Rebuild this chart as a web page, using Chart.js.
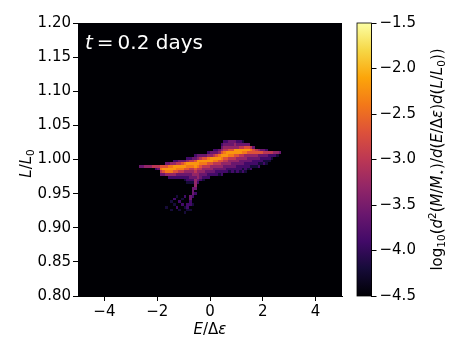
<!DOCTYPE html>
<html>
<head>
<meta charset="utf-8">
<script src="https://cdn.jsdelivr.net/npm/chart.js@4.4.1/dist/chart.umd.min.js"></script>
<style>
  html, body { margin: 0; padding: 0; background: #fff; }
  #wrap { position: relative; width: 455px; height: 349px; }
  #main { position: absolute; left: 0; top: 0; }
  #cbar { position: absolute; left: 350px; top: 0; }
</style>
</head>
<body>
<div id="wrap">
  <canvas id="main" width="350" height="349"></canvas>
  <canvas id="cbar" width="105" height="349"></canvas>
</div>
<script>
// --- data ---
const E_MIN = -3.0, E_STEP = 0.1;     // histogram columns (E / Δε)
const L_TOP = 1.030, L_STEP = 0.004;  // row centres, top row first (L / L0)

// colour level of each cell, one entry per E column: [first row index, levels]
// '.' = empty, '1'..'8' -> LEVEL_VALUES
const COLUMNS = [
  [0, ''], [0, ''], [0, ''],
  [10, '3'], [10, '3'], [10, '4'], [10, '4'], [10, '4'], [10, '5'],
  [10, '52'], [10, '53'], [10, '6753'], [10, '6863'],
  [9, '36874...........1'],
  [9, '378742'],
  [9, '478742........1..1'],
  [8, '2488642.......2.1'],
  [8, '2587632......1...2'],
  [8, '3587532........2..1'],
  [8, '3687532.......1.2'],
  [8, '37864321.....2...1.1'],
  [7, '2487643221.......221'],
  [7, '2587543321....3322.1'],
  [7, '3587544321.3332..1'],
  [6, '2368865434443.2'],
  [6, '34887544432'],
  [6, '3587654332'],
  [6, '3687544321'],
  [6, '368754332'],
  [5, '2478654322'],
  [5, '348864432'],
  [4, '2358754332'],
  [4, '2368754322'],
  [4, '3478654321'],
  [2, '234687644322'],
  [1, '234578654332'],
  [1, '234588654322'],
  [1, '334687544321'],
  [1, '334687543322'],
  [1, '344886543321'],
  [1, '234886443222'],
  [1, '235885433221'],
  [1, '135875433212'],
  [2, '36874432221'],
  [2, '3686433221'],
  [3, '576433212'],
  [3, '36643221'],
  [4, '5643221'],
  [4, '4633212'],
  [4, '363221'],
  [4, '353212'],
  [4, '253211'],
  [5, '5221'],
  [5, '521'],
  [5, '42'],
  [5, '41'],
  [5, '3'],
  [0, ''], [0, ''], [0, '']
];
const LEVEL_VALUES = { '1': -4.2, '2': -3.9, '3': -3.6, '4': -3.3, '5': -3.0, '6': -2.7, '7': -2.4, '8': -2.2 };

const X_TICKS = [-4, -2, 0, 2, 4];
const Y_TICKS = [0.80, 0.85, 0.90, 0.95, 1.00, 1.05, 1.10, 1.15, 1.20];
const CB_TICKS = [-4.5, -4.0, -3.5, -3.0, -2.5, -2.0, -1.5];
const CB_MIN = -4.5, CB_MAX = -1.5;

// --- style ---
const FONT = '"DejaVu Sans", sans-serif';
const TICK_SIZE = 15;
const LABEL_SIZE = 15;
const INFERNO = [
  [0, 0, 4], [22, 11, 57], [66, 10, 104], [106, 23, 110], [147, 38, 103],
  [188, 55, 84], [221, 81, 58], [243, 120, 25], [252, 165, 10], [246, 215, 70], [252, 255, 164]
];

function inferno(t) {
  t = Math.min(1, Math.max(0, t)) * (INFERNO.length - 1);
  const i = Math.min(INFERNO.length - 2, Math.floor(t));
  const f = t - i, a = INFERNO[i], b = INFERNO[i + 1];
  const c = a.map((v, n) => Math.round(v + (b[n] - v) * f));
  return `rgb(${c[0]}, ${c[1]}, ${c[2]})`;
}
const norm = v => (v - CB_MIN) / (CB_MAX - CB_MIN);
const minus = s => s.replace('-', '\u2212');

// build cells from the columns
const cells = [];
COLUMNS.forEach(([start, levels], j) => {
  const e = E_MIN + (j + 0.5) * E_STEP;
  [...levels].forEach((ch, i) => {
    if (ch === '.') return;
    cells.push({ x: e, y: L_TOP - (start + i) * L_STEP, v: LEVEL_VALUES[ch] });
  });
});

// mixed italic / sub / sup text, like matplotlib mathtext
function drawRich(ctx, parts, x, y, size, opts) {
  const fontFor = p => {
    const s = (p[1] === 'sub' || p[1] === 'sup') ? size * 0.7 : size;
    return (p[1] === 'i' ? 'italic ' : '') + s + 'px ' + FONT;
  };
  let w = 0;
  const widths = parts.map(p => { ctx.font = fontFor(p); const m = ctx.measureText(p[0]).width; w += m; return m; });
  ctx.save();
  ctx.translate(x, y);
  if (opts.rotate) ctx.rotate(opts.rotate);
  ctx.fillStyle = opts.color || '#000';
  ctx.textAlign = 'left';
  ctx.textBaseline = 'alphabetic';
  let cx = opts.align === 'left' ? 0 : -w / 2;
  parts.forEach((p, n) => {
    ctx.font = fontFor(p);
    const dy = p[1] === 'sub' ? size * 0.2 : p[1] === 'sup' ? -size * 0.38 : 0;
    ctx.fillText(p[0], cx, dy);
    cx += widths[n];
  });
  ctx.restore();
}

const heatmapPlugin = {
  id: 'heatmap',
  beforeDatasetsDraw(chart) {
    const { ctx, chartArea: a, scales: { x, y } } = chart;
    ctx.save();
    ctx.fillStyle = inferno(0);
    ctx.fillRect(a.left, a.top, a.right - a.left, a.bottom - a.top);
    ctx.beginPath();
    ctx.rect(a.left, a.top, a.right - a.left, a.bottom - a.top);
    ctx.clip();
    chart.data.datasets[0].data.forEach(c => {
      const x0 = Math.round(x.getPixelForValue(c.x - E_STEP / 2));
      const x1 = Math.round(x.getPixelForValue(c.x + E_STEP / 2));
      const y0 = Math.round(y.getPixelForValue(c.y + L_STEP / 2));
      const y1 = Math.round(y.getPixelForValue(c.y - L_STEP / 2));
      ctx.fillStyle = inferno(norm(c.v));
      ctx.fillRect(x0, y0, x1 - x0, y1 - y0);
    });
    ctx.restore();
  },
  afterDraw(chart) {
    const { ctx, chartArea: a } = chart;
    drawRich(ctx, [['t', 'i'], ['\u2009=\u2009', ''], ['0.2 days', '']], a.left + 7, a.top + 26, 20, { align: 'left', color: '#fff' });
    drawRich(ctx, [['E', 'i'], ['/\u0394', ''], ['\u03b5', 'i']], (a.left + a.right) / 2, 334, LABEL_SIZE, {});
    drawRich(ctx, [['L', 'i'], ['/', ''], ['L', 'i'], ['0', 'sub']], 31, (a.top + a.bottom) / 2 + 4, LABEL_SIZE, { rotate: -Math.PI / 2 });
  }
};

const axisStyle = {
  grid: { drawOnChartArea: false, drawTicks: true, tickLength: 5, color: '#000' },
  border: { display: true, color: '#000' }
};

new Chart(document.getElementById('main'), {
  type: 'scatter',
  data: { datasets: [{ data: cells, pointRadius: 0, pointHoverRadius: 0 }] },
  options: {
    responsive: false,
    animation: false,
    devicePixelRatio: 1,
    events: [],
    layout: { padding: { top: 23, right: 8, left: 0, bottom: 0 } },
    plugins: { legend: { display: false }, tooltip: { enabled: false } },
    scales: {
      x: {
        type: 'linear', min: -5, max: 5,
        ...axisStyle,
        afterFit(s) { s.height = 53; },
        afterBuildTicks(s) { s.ticks = X_TICKS.map(v => ({ value: v })); },
        ticks: {
          color: '#000', padding: 2, maxRotation: 0, autoSkip: false,
          font: { family: FONT, size: TICK_SIZE },
          callback: v => minus(String(v))
        }
      },
      y: {
        type: 'linear', min: 0.8, max: 1.2,
        ...axisStyle,
        afterFit(s) { s.width = 78; },
        afterBuildTicks(s) { s.ticks = Y_TICKS.map(v => ({ value: v })); },
        ticks: {
          color: '#000', padding: 2, autoSkip: false,
          font: { family: FONT, size: TICK_SIZE },
          callback: v => v.toFixed(2)
        }
      }
    }
  },
  plugins: [heatmapPlugin]
});

// --- colour bar ---
function barGradient(chart) {
  const y = chart.scales.y;
  if (!chart.chartArea || !y) return 'black';
  const g = chart.ctx.createLinearGradient(0, y.getPixelForValue(CB_MIN), 0, y.getPixelForValue(CB_MAX));
  INFERNO.forEach((c, i) => g.addColorStop(i / (INFERNO.length - 1), `rgb(${c[0]}, ${c[1]}, ${c[2]})`));
  return g;
}

const cbarPlugin = {
  id: 'cbarFrame',
  afterDatasetsDraw(chart) {
    const { ctx, chartArea: a } = chart;
    ctx.save();
    ctx.strokeStyle = '#000';
    ctx.lineWidth = 0.8;
    ctx.strokeRect(a.left, a.top, a.right - a.left, a.bottom - a.top);
    ctx.restore();
  },
  afterDraw(chart) {
    const { ctx, chartArea: a } = chart;
    drawRich(ctx, [
      ['log', ''], ['10', 'sub'], ['(', ''], ['d', 'i'], ['2', 'sup'], ['(', ''], ['M', 'i'], ['/', ''],
      ['M', 'i'], ['\u22c6', 'sub'], [')/', ''], ['d', 'i'], ['(', ''], ['E', 'i'], ['/\u0394', ''], ['\u03b5', 'i'],
      [')', ''], ['d', 'i'], ['(', ''], ['L', 'i'], ['/', ''], ['L', 'i'], ['0', 'sub'], ['))', '']
    ], 92, (a.top + a.bottom) / 2, LABEL_SIZE, { rotate: -Math.PI / 2 });
  }
};

new Chart(document.getElementById('cbar'), {
  type: 'bar',
  data: {
    labels: ['cb'],
    datasets: [{
      data: [[CB_MIN, CB_MAX]],
      backgroundColor: ctx => barGradient(ctx.chart),
      borderWidth: 0,
      barPercentage: 1,
      categoryPercentage: 1
    }]
  },
  options: {
    responsive: false,
    animation: false,
    devicePixelRatio: 1,
    events: [],
    layout: { padding: { left: 7, top: 23, bottom: 53, right: 0 } },
    plugins: { legend: { display: false }, tooltip: { enabled: false } },
    scales: {
      x: { display: false },
      y: {
        position: 'right', min: CB_MIN, max: CB_MAX,
        ...axisStyle,
        afterFit(s) { s.width = 83.5; },
        afterBuildTicks(s) { s.ticks = CB_TICKS.map(v => ({ value: v })); },
        ticks: {
          color: '#000', padding: 3, autoSkip: false,
          font: { family: FONT, size: TICK_SIZE },
          callback: v => minus(v.toFixed(1))
        }
      }
    }
  },
  plugins: [cbarPlugin]
});
</script>
</body>
</html>
